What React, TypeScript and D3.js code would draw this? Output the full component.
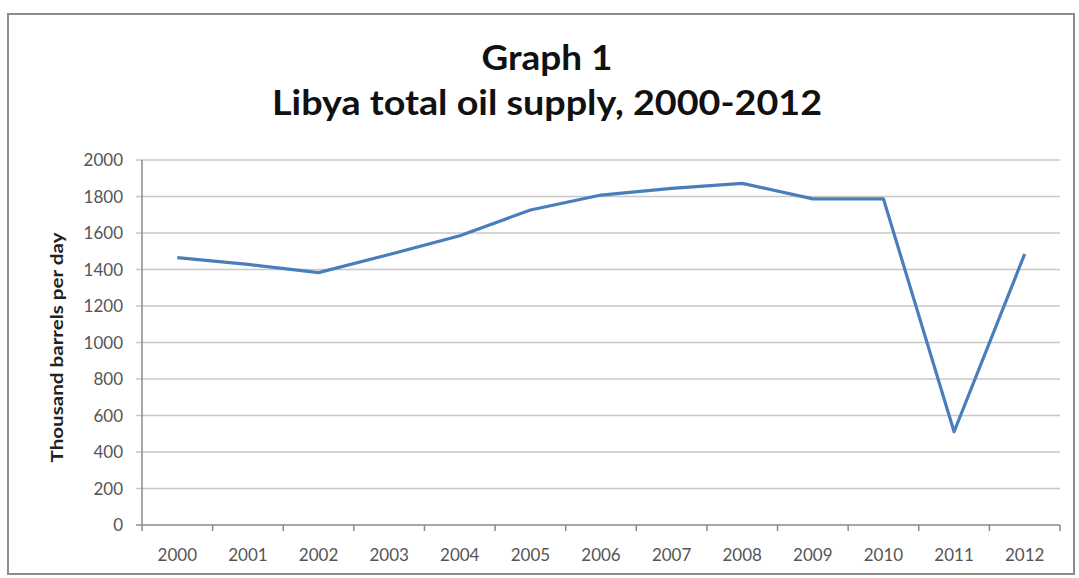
import React from "react";
import * as d3 from "d3";

const years = ["2000","2001","2002","2003","2004","2005","2006","2007","2008","2009","2010","2011","2012"];
const supply = [1465, 1428, 1383, 1482, 1585, 1726, 1808, 1845, 1872, 1787, 1787, 511, 1485];
const yTicks = [0, 200, 400, 600, 800, 1000, 1200, 1400, 1600, 1800, 2000];
const titleLines = ["Graph 1", "Libya total oil supply, 2000-2012"];
const yLabel = "Thousand barrels per day";

export default function App() {
  const W = 1079, H = 578;
  const left = 142, right = 1060, top = 160, bottom = 525;
  const x = d3.scaleBand<string>().domain(years).range([left, right]);
  const y = d3.scaleLinear().domain([0, 2000]).range([bottom, top]);
  const line = d3.line<number>()
    .x((_, i) => (x(years[i]) as number) + x.bandwidth() / 2)
    .y((d) => y(d));
  const boundaries = years.map((yr) => (x(yr) as number)).concat([right]);
  const font = "Lato, 'Open Sans', sans-serif";
  return (
    <svg width={W} height={H} style={{ position: "absolute", left: 0, top: 0, background: "#fff" }}>
      <rect x={8} y={14} width={1066} height={560} fill="#fff" stroke="#8c8c8c" strokeWidth={2} />
      <text x={547} y={70} textAnchor="middle" fontFamily={font} fontWeight="bold" fontSize={34} fill="#111" textLength={131} lengthAdjust="spacingAndGlyphs">{titleLines[0]}</text>
      <text x={547} y={115} textAnchor="middle" fontFamily={font} fontWeight="bold" fontSize={34} fill="#111" textLength={550} lengthAdjust="spacingAndGlyphs">{titleLines[1]}</text>
      {yTicks.map((t) => (
        <g key={t}>
          <line x1={left - 6} x2={right} y1={y(t)} y2={y(t)} stroke={t === 0 ? "#8a8a8a" : "#c8c8c8"} strokeWidth={1.5} />
          <text x={123} y={y(t) + 6} textAnchor="end" fontFamily={font} fontSize={17} fill="#555">{t}</text>
        </g>
      ))}
      <line x1={left} x2={left} y1={top} y2={bottom} stroke="#8a8a8a" strokeWidth={1.5} />
      {boundaries.map((b, i) => (
        <line key={i} x1={b} x2={b} y1={bottom} y2={bottom + 6} stroke="#8a8a8a" strokeWidth={1.5} />
      ))}
      {years.map((yr) => (
        <text key={yr} x={(x(yr) as number) + x.bandwidth() / 2} y={561} textAnchor="middle" fontFamily={font} fontSize={17} fill="#555">{yr}</text>
      ))}
      <text transform={`translate(63,${(top + bottom) / 2 + 5}) rotate(-90)`} textAnchor="middle" fontFamily={font} fontWeight="bold" fontSize={17} fill="#222" textLength={230} lengthAdjust="spacingAndGlyphs">{yLabel}</text>
      <path d={line(supply) || ""} fill="none" stroke="#4a7ebb" strokeWidth={3.2} strokeLinejoin="round" />
    </svg>
  );
}
